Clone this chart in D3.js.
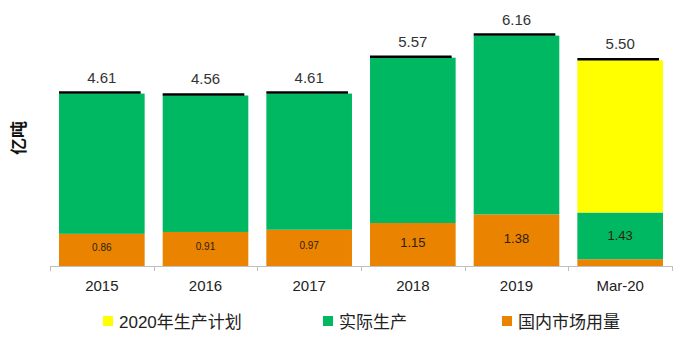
<!DOCTYPE html>
<html>
<head>
<meta charset="utf-8">
<script src="https://cdn.jsdelivr.net/npm/d3@7"></script>
<style>
  html, body { margin: 0; padding: 0; background: #fff; }
  svg { display: block; }
  text { font-family: "Liberation Sans", "Noto Sans CJK SC", sans-serif; }
</style>
</head>
<body>
<svg id="chart" width="681" height="341"></svg>
<script>
const categories = ["2015", "2016", "2017", "2018", "2019", "Mar-20"];
const domesticUse = [0.86, 0.91, 0.97, 1.15, 1.38, 0.18];   // 国内市场用量
const actualProduction = [4.61, 4.56, 4.61, 5.57, 6.16, 1.43]; // 实际生产
const plan2020 = [null, null, null, null, null, 5.50];      // 2020年生产计划
const seriesNames = ["2020年生产计划", "实际生产", "国内市场用量"];
const seriesColors = ["#FFFF00", "#00B862", "#E98300"];
const yLabel = "亿吨";

const svg = d3.select("#chart");
const x0 = 50, x1 = 672, baseY = 266;

const xAxisScale = d3.scaleBand().domain(categories).range([x0, x1]).padding(0);
const x = d3.scaleBand().domain(categories).range([x0, x1]).paddingInner(0.174).paddingOuter(0.087);
const y = d3.scaleLinear().domain([0, 7]).range([baseY, baseY - 7 * 37.4]);

const rows = categories.map((c, i) => ({
  cat: c, i,
  dom: domesticUse[i], act: actualProduction[i], plan: plan2020[i],
  total: plan2020[i] != null ? plan2020[i] : actualProduction[i]
}));

// segments
const segs = [];
rows.forEach(r => {
  segs.push({ cat: r.cat, y0: 0, y1: r.dom, color: seriesColors[2] });
  segs.push({ cat: r.cat, y0: r.dom, y1: r.act, color: seriesColors[1] });
  if (r.plan != null) segs.push({ cat: r.cat, y0: r.act, y1: r.plan, color: seriesColors[0] });
});

svg.append("g").selectAll("rect").data(segs).join("rect")
  .attr("x", d => x(d.cat))
  .attr("width", x.bandwidth())
  .attr("y", d => y(d.y1))
  .attr("height", d => y(d.y0) - y(d.y1))
  .attr("fill", d => d.color);

// black top lines
svg.append("g").selectAll("line").data(rows).join("line")
  .attr("x1", d => x(d.cat))
  .attr("x2", d => x(d.cat) + x.bandwidth() - 4)
  .attr("y1", d => y(d.total) - 1)
  .attr("y2", d => y(d.total) - 1)
  .attr("stroke", "#000")
  .attr("stroke-width", 2.5);

// total labels
svg.append("g").selectAll("text").data(rows).join("text")
  .attr("x", d => x(d.cat) + x.bandwidth() / 2)
  .attr("y", d => y(d.total) - 11)
  .attr("text-anchor", "middle")
  .attr("font-size", 15)
  .attr("fill", "#333")
  .text(d => d.total.toFixed(2));

// inner labels
svg.append("g").selectAll("text").data(rows).join("text")
  .attr("x", d => x(d.cat) + x.bandwidth() / 2)
  .attr("y", d => d.plan != null ? (y(d.dom) + y(d.act)) / 2 : (y(0) + y(d.dom)) / 2 - 2)
  .attr("dy", "0.35em")
  .attr("text-anchor", "middle")
  .attr("font-size", d => d.i < 3 ? 10 : 13)
  .attr("fill", "#2a1f10")
  .text(d => (d.plan != null ? d.act : d.dom).toFixed(2));

// x axis
const axis = svg.append("g").attr("transform", `translate(0,${baseY})`);
axis.append("line").attr("x1", x0).attr("x2", x1).attr("y1", 0.5).attr("y2", 0.5)
  .attr("stroke", "#BFBFBF").attr("stroke-width", 1);
const tickPos = categories.map(c => xAxisScale(c)).concat([x1]);
axis.selectAll("line.tick").data(tickPos).join("line").attr("class", "tick")
  .attr("x1", d => Math.round(d) + 0.5).attr("x2", d => Math.round(d) + 0.5)
  .attr("y1", 0).attr("y2", 5)
  .attr("stroke", "#BFBFBF");
axis.selectAll("text").data(categories).join("text")
  .attr("x", d => xAxisScale(d) + xAxisScale.bandwidth() / 2)
  .attr("y", 25)
  .attr("text-anchor", "middle")
  .attr("font-size", 15)
  .attr("fill", "#222")
  .text(d => d);

// y label
svg.append("text")
  .attr("transform", "translate(19.5,138) rotate(-90)")
  .attr("text-anchor", "middle")
  .attr("dy", "0.35em")
  .attr("font-size", 17)
  .attr("font-weight", "bold")
  .attr("font-family", "'Noto Sans CJK SC', sans-serif")
  .attr("fill", "#111")
  .text(yLabel);

// legend
const legendX = [103, 323, 502];
const lg = svg.append("g").selectAll("g").data(seriesNames).join("g")
  .attr("transform", (d, i) => `translate(${legendX[i]},316)`);
lg.append("rect").attr("width", 10).attr("height", 10).attr("fill", (d, i) => seriesColors[i]);
lg.append("text").attr("x", 16).attr("y", 12)
  .attr("font-size", 17)
  .attr("font-family", "'Noto Sans CJK SC', 'Liberation Sans', sans-serif")
  .attr("fill", "#222")
  .text(d => d);
</script>
</body>
</html>
